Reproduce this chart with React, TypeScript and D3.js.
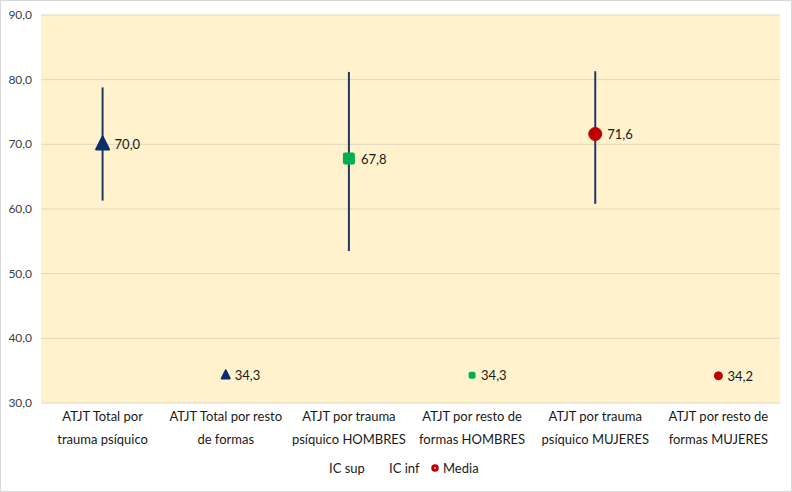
import React from "react";
import * as d3 from "d3";

const categories: string[][] = [
  ["ATJT Total por", "trauma psíquico"],
  ["ATJT Total por resto", "de formas"],
  ["ATJT por trauma", "psíquico HOMBRES"],
  ["ATJT por resto de", "formas HOMBRES"],
  ["ATJT por trauma", "psíquico MUJERES"],
  ["ATJT por resto de", "formas MUJERES"],
];
const media: number[] = [70.0, 34.3, 67.8, 34.3, 71.6, 34.2];
const icSup: (number | null)[] = [78.8, null, 81.2, null, 81.3, null];
const icInf: (number | null)[] = [61.3, null, 53.5, null, 60.8, null];
const yTicks: number[] = [30, 40, 50, 60, 70, 80, 90];
const markerShape: string[] = ["triangle", "triangle", "square", "square", "circle", "circle"];
const markerColor: string[] = ["#0d2d6b", "#0d2d6b", "#00b050", "#00b050", "#c00000", "#c00000"];
const markerBig: boolean[] = [true, false, true, false, true, false];

const W = 792;
const H = 492;
const left = 41;
const right = 780;
const top = 15;
const bottom = 403;

const fmt = (v: number) => v.toFixed(1).replace(".", ",");

export default function App() {
  const x = d3.scaleBand<number>().domain(d3.range(categories.length)).range([left, right]);
  const y = d3.scaleLinear().domain([30, 90]).range([bottom, top]);
  const font = "Lato, 'Liberation Sans', sans-serif";

  const marker = (i: number) => {
    const cx = (x(i) as number) + x.bandwidth() / 2;
    const cy = y(media[i]);
    const big = markerBig[i];
    const shape = markerShape[i];
    const c = markerColor[i];
    if (shape === "circle") {
      return <circle cx={cx} cy={cy} r={big ? 6.5 : 4} fill={c} stroke={c} strokeWidth={1} />;
    }
    if (shape === "square") {
      const s = big ? 12 : 7;
      return <rect x={cx - s / 2} y={cy - s / 2} width={s} height={s} rx={2} fill={c} />;
    }
    const s = big ? 13 : 8;
    const p = d3.path();
    p.moveTo(cx, cy - s * 0.6);
    p.lineTo(cx + s / 2, cy + s * 0.4);
    p.lineTo(cx - s / 2, cy + s * 0.4);
    p.closePath();
    return <path d={p.toString()} fill={c} stroke={c} strokeWidth={2} strokeLinejoin="round" />;
  };

  return (
    <svg width={W} height={H} style={{ position: "absolute", left: 0, top: 0 }} fontFamily={font}>
      <rect x={0.5} y={0.5} width={W - 1} height={H - 1} fill="#ffffff" stroke="#d9d9d9" />
      <rect x={left} y={top} width={right - left} height={bottom - top} fill="#fff2cc" />
      {yTicks.map((t) => (
        <g key={t}>
          <line x1={left} x2={right} y1={y(t)} y2={y(t)} stroke="#e2d7bd" strokeWidth={1} />
          <text x={32} y={y(t) + 4} textAnchor="end" fontSize={12} fill="#404040">
            {fmt(t)}
          </text>
        </g>
      ))}
      {categories.map((lines, i) => {
        const cx = (x(i) as number) + x.bandwidth() / 2;
        return (
          <text key={i} textAnchor="middle" fontSize={13} fill="#1a1a1a">
            {lines.map((l, k) => (
              <tspan key={k} x={cx} y={421 + k * 23}>
                {l}
              </tspan>
            ))}
          </text>
        );
      })}
      {media.map((m, i) => {
        const cx = (x(i) as number) + x.bandwidth() / 2;
        const s = icSup[i];
        const f = icInf[i];
        return (
          <g key={i}>
            {s !== null && f !== null && (
              <line x1={cx} x2={cx} y1={y(s)} y2={y(f)} stroke="#1f3864" strokeWidth={2} />
            )}
            {marker(i)}
            <text x={cx + (markerBig[i] ? 12 : 9)} y={y(m) + 5} fontSize={13} fill="#1a1a1a">
              {fmt(m)}
            </text>
          </g>
        );
      })}
      <g fontSize={13} fill="#1a1a1a">
        <text x={329} y={473}>IC sup</text>
        <text x={389} y={473}>IC inf</text>
        <circle cx={435} cy={468} r={3} fill="#c00000" stroke="#c00000" strokeWidth={1.5} />
        <circle cx={435} cy={468} r={1} fill="#f4b0b0" />
        <text x={443} y={473}>Media</text>
      </g>
    </svg>
  );
}
